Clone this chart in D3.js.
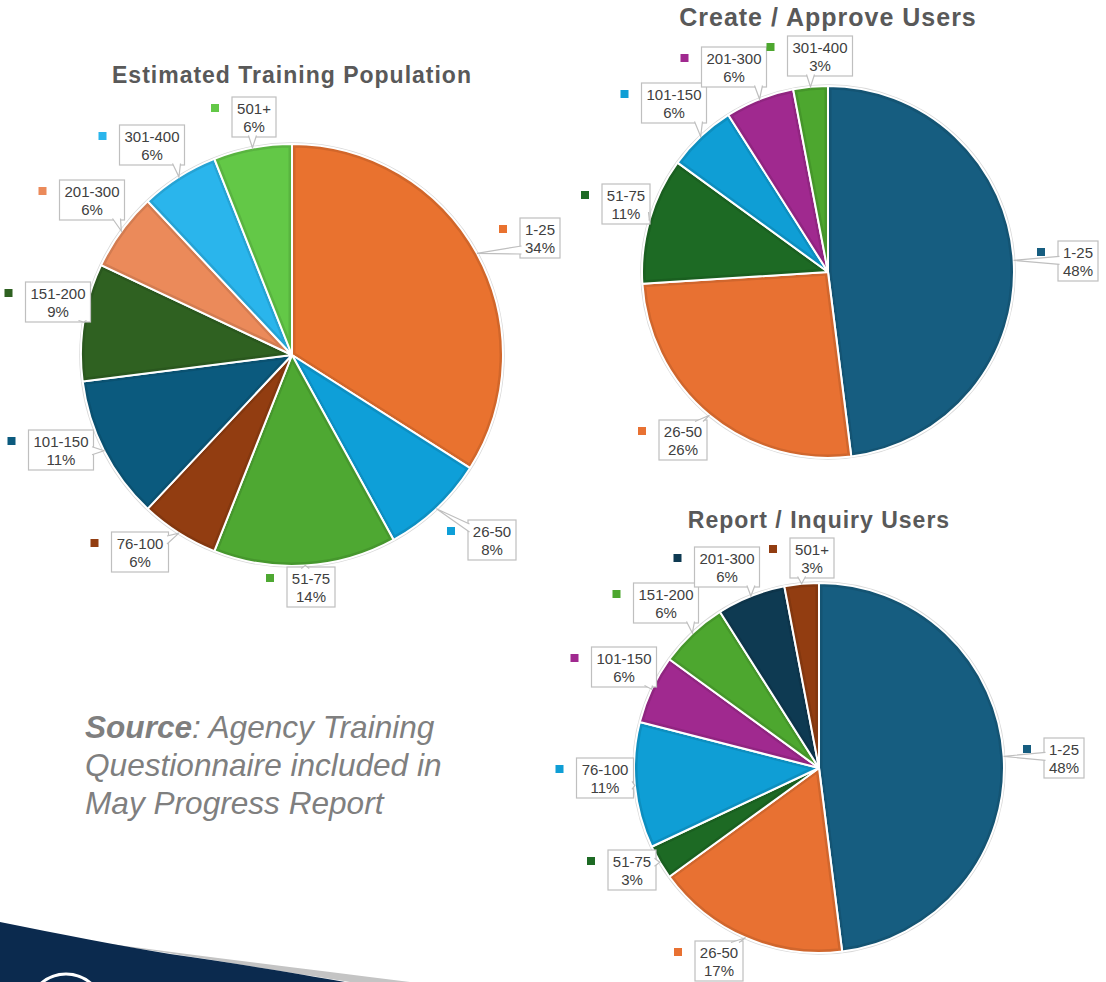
<!DOCTYPE html>
<html>
<head>
<meta charset="utf-8">
<title>Training Population Pies</title>
<script src="https://cdn.jsdelivr.net/npm/d3@7"></script>
<style>
  body { margin: 0; background: #fff; }
  svg { display: block; font-family: "Liberation Sans", Arial, sans-serif; }
</style>
</head>
<body>
<div id="chart"></div>
<script>
// ---- data (percent of respondents per size band) ----
var popCats = ["1-25", "26-50", "51-75", "76-100", "101-150", "151-200", "201-300", "301-400", "501+"];
var popPcts = [34, 8, 14, 6, 11, 9, 6, 6, 6];

var createCats = ["1-25", "26-50", "51-75", "101-150", "201-300", "301-400"];
var createPcts = [48, 26, 11, 6, 6, 3];

var reportCats = ["1-25", "26-50", "51-75", "76-100", "101-150", "151-200", "201-300", "501+"];
var reportPcts = [48, 17, 3, 11, 6, 6, 6, 3];

// ---- colours ----
var popColors = ["#e9722f", "#0e9fd8", "#4ea832", "#923d11", "#0b5a7e", "#2f6121", "#eb8a5a", "#2ab5ec", "#63c847"];
var createColors = ["#165d80", "#e87132", "#1d6a24", "#0f9ed5", "#a0298f", "#4da72f"];
var reportColors = ["#165d80", "#e87132", "#1d6a24", "#0f9ed5", "#a0298f", "#4da72f", "#0e3a52", "#923d11"];

// ---- label box centres, relative to each pie centre (layout only) ----
var popLabelPos = [[248, -117], [200, 185], [19, 232], [-152, 197], [-231, 95], [-234, -53], [-200, -155], [-140, -210], [-38, -238]];
var createLabelPos = [[250, -11], [-145, 168], [-202, -68], [-154, -169], [-94, -205], [-8, -216]];
var reportLabelPos = [[245, -10], [-100, 193], [-187, 102], [-214, 10], [-195, -101], [-153, -165], [-92, -201], [-7, -210]];

var width = 1106, height = 982;

var svg = d3.select("#chart").append("svg")
    .attr("width", width)
    .attr("height", height);
var defs = svg.append("defs");

// bottom-left slide decoration
svg.append("path")
    .attr("d", "M110,944 C200,956 300,968 410,982 L350,982 C260,968 190,956 120,946 Z")
    .attr("fill", "#c4c4c4");
svg.append("path")
    .attr("d", "M0,922 C60,934 120,946 170,954 C240,964 300,974 345,982 L0,982 Z")
    .attr("fill", "#0b2a4e");
svg.append("circle")
    .attr("cx", 66).attr("cy", 1012).attr("r", 38)
    .attr("fill", "#0b2a4e").attr("stroke", "#ffffff").attr("stroke-width", 3);

var charts = [
  {title: "Estimated Training Population", cats: popCats, pcts: popPcts, colors: popColors,
   labels: popLabelPos, cx: 292, cy: 355, r: 211, titleY: 83, titleSize: 23},
  {title: "Create / Approve Users", cats: createCats, pcts: createPcts, colors: createColors,
   labels: createLabelPos, cx: 828, cy: 272, r: 186, titleY: 26, titleSize: 25},
  {title: "Report / Inquiry Users", cats: reportCats, pcts: reportPcts, colors: reportColors,
   labels: reportLabelPos, cx: 819, cy: 768, r: 185, titleY: 528, titleSize: 23}
];

charts.forEach(drawPie);

function drawPie(cfg, idx) {
  var data = cfg.cats.map(function(c, i) {
    return {cat: c, pct: cfg.pcts[i], color: cfg.colors[i], lab: cfg.labels[i]};
  });

  svg.append("text")
      .attr("x", cfg.cx)
      .attr("y", cfg.titleY)
      .attr("text-anchor", "middle")
      .attr("font-size", cfg.titleSize)
      .attr("font-weight", "bold")
      .attr("letter-spacing", 1)
      .attr("fill", "#595959")
      .text(cfg.title);

  var g = svg.append("g")
      .attr("transform", "translate(" + cfg.cx + "," + cfg.cy + ")");

  var pie = d3.pie().sort(null).value(function(d) { return d.pct; });
  var arc = d3.arc().innerRadius(0).outerRadius(cfg.r);
  var arcs = pie(data);

  // soft rim
  g.append("circle")
      .attr("r", cfg.r + 1)
      .attr("fill", "none")
      .attr("stroke", "#d9d9d9")
      .attr("stroke-width", 1.5);

  arcs.forEach(function(a, i) {
    defs.append("clipPath")
        .attr("id", "clip" + idx + "_" + i)
        .append("path")
        .attr("d", arc(a));
  });

  var slices = g.selectAll("g.slice")
      .data(arcs)
      .join("g")
      .attr("class", "slice");

  slices.append("path")
      .attr("d", arc)
      .attr("fill", function(d) { return d.data.color; });

  // darker inner border
  slices.append("path")
      .attr("d", arc)
      .attr("fill", "none")
      .attr("stroke", function(d) { return d3.color(d.data.color).darker(0.3); })
      .attr("stroke-width", 7)
      .attr("clip-path", function(d, i) { return "url(#clip" + idx + "_" + i + ")"; });

  // white separators
  slices.append("path")
      .attr("d", arc)
      .attr("fill", "none")
      .attr("stroke", "#ffffff")
      .attr("stroke-width", 2)
      .attr("stroke-linejoin", "round");

  // callout labels
  var labs = g.selectAll("g.lab")
      .data(arcs)
      .join("g")
      .attr("class", "lab");

  labs.each(function(d) {
    var sel = d3.select(this);
    var mid = (d.startAngle + d.endAngle) / 2;
    var tip = [Math.sin(mid) * cfg.r, -Math.cos(mid) * cfg.r];
    var c = d.data.lab;
    var h = 40;

    var txt = sel.append("text")
        .attr("text-anchor", "middle")
        .attr("font-size", 15)
        .attr("fill", "#404040");
    txt.append("tspan").attr("x", c[0]).attr("y", c[1] - h / 2 + 17).text(d.data.cat);
    txt.append("tspan").attr("x", c[0]).attr("y", c[1] - h / 2 + 34.5).text(d.data.pct + "%");

    var tw = 0;
    txt.selectAll("tspan").each(function() { tw = Math.max(tw, this.getComputedTextLength()); });
    var w = Math.round(tw + 10);
    var x0 = c[0] - w / 2, x1 = c[0] + w / 2, y0 = c[1] - h / 2, y1 = c[1] + h / 2;

    sel.insert("rect", "text")
        .attr("x", x0).attr("y", y0)
        .attr("width", w).attr("height", h)
        .attr("fill", "#ffffff")
        .attr("stroke", "#bfbfbf")
        .attr("stroke-width", 1.2);

    // pointer wedge from slice edge to nearest box side
    var half = 4, m = 4;
    var ddx = (tip[0] - c[0]) / (w / 2), ddy = (tip[1] - c[1]) / (h / 2);
    var b1, b2, bx, by;
    if (Math.abs(ddx) > Math.abs(ddy)) {
      bx = ddx < 0 ? x0 + 1.5 : x1 - 1.5;
      by = Math.max(y0 + m + half, Math.min(y1 - m - half, tip[1]));
      b1 = [bx, by - half]; b2 = [bx, by + half];
    } else {
      by = ddy < 0 ? y0 + 1.5 : y1 - 1.5;
      bx = Math.max(x0 + m + half, Math.min(x1 - m - half, tip[0]));
      b1 = [bx - half, by]; b2 = [bx + half, by];
    }
    sel.insert("path", "text")
        .attr("d", "M" + b1 + "L" + tip + "L" + b2)
        .attr("fill", "#ffffff")
        .attr("stroke", "#bfbfbf")
        .attr("stroke-width", 1.2);

    // legend key
    sel.append("rect")
        .attr("x", x0 - 17 - 4)
        .attr("y", y0 + 11 - 4)
        .attr("width", 8).attr("height", 8)
        .attr("fill", d.data.color);
  });
}

// source note
var note = svg.append("text")
    .attr("x", 85)
    .attr("font-size", 31.6)
    .attr("font-style", "italic")
    .attr("fill", "#7f7f7f");
var l1 = note.append("tspan").attr("x", 85).attr("y", 738);
l1.append("tspan").attr("font-weight", "bold").text("Source");
l1.append("tspan").text(": Agency Training");
note.append("tspan").attr("x", 85).attr("y", 776).text("Questionnaire included in");
note.append("tspan").attr("x", 85).attr("y", 814).text("May Progress Report");
</script>
</body>
</html>
